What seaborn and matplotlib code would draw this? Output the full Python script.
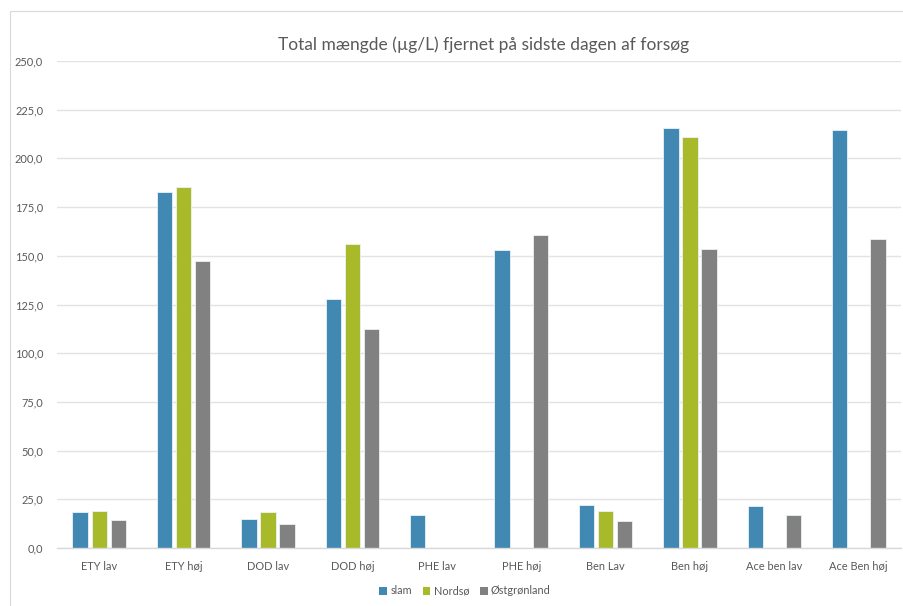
import numpy as np
import pandas as pd
import matplotlib
matplotlib.use("Agg")
import matplotlib.pyplot as plt
from matplotlib.patches import Rectangle
import seaborn as sns

# Categories and removed amounts (µg/L) per sediment type
kategorier = ["ETY lav", "ETY høj", "DOD lav", "DOD høj", "PHE lav",
              "PHE høj", "Ben Lav", "Ben høj", "Ace ben lav", "Ace Ben høj"]
serier = ["slam", "Nordsø", "Østgrønland"]
slam = [18.5, 182.5, 14.7, 127.6, 17.1, 153.2, 22.2, 215.4, 21.6, 214.7]
nordsoe = [19.0, 185.1, 18.5, 156.2, np.nan, np.nan, 19.2, 211.1, np.nan, np.nan]
oestgroenland = [14.4, 147.4, 12.3, 112.5, np.nan, 160.9, 13.9, 153.3, 17.1, 158.4]
y_ticks = [0, 25, 50, 75, 100, 125, 150, 175, 200, 225, 250]

farver = ["#4189B2", "#A8B92A", "#818181"]
tekstfarve = "#595959"

df = pd.DataFrame({
    "kategori": kategorier * 3,
    "serie": [s for s in serier for _ in kategorier],
    "værdi": slam + nordsoe + oestgroenland,
})
df = df.dropna()

sns.set_theme(style="white")
plt.rcParams["font.family"] = ["Lato", "DejaVu Sans"]

fig = plt.figure(figsize=(9.04, 6.06), dpi=100)
ax = fig.add_axes([57 / 904, 1 - 548 / 606, 844 / 904, 487 / 606])

sns.barplot(data=df, x="kategori", y="værdi", hue="serie",
            order=kategorier, hue_order=serier, palette=farver,
            saturation=1, width=0.68, gap=0.2, errorbar=None, ax=ax,
            edgecolor="#EAF2F7", linewidth=0.6, legend=False)

ax.set_ylim(0, 250)
ax.set_xlim(-0.5, len(kategorier) - 0.5)
ax.set_yticks(y_ticks)
ax.set_yticklabels([f"{v:.1f}".replace(".", ",") for v in y_ticks])
ax.yaxis.grid(True, color="#E3E3E3", linewidth=1.0)
ax.set_axisbelow(True)
for side in ["top", "right", "left"]:
    ax.spines[side].set_visible(False)
ax.spines["bottom"].set_color("#D9D9D9")
ax.spines["bottom"].set_linewidth(1.0)
ax.tick_params(axis="both", length=0, colors=tekstfarve, labelsize=7.9)
ax.tick_params(axis="y", pad=10)
ax.tick_params(axis="x", pad=9)
ax.set_xlabel("")
ax.set_ylabel("")

fig.text(484 / 904, 1 - 45 / 606,
         "Total mængde (µg/L) fjernet på sidste dagen af forsøg",
         ha="center", va="center", fontsize=12.5, color=tekstfarve)

handles = [Rectangle((0, 0), 1, 1, facecolor=c, edgecolor="none") for c in farver]
fig.legend(handles, serier, loc="center", bbox_to_anchor=(465 / 904, 1 - 591 / 606),
           ncol=3, frameon=False, fontsize=7.8, labelcolor=tekstfarve,
           handlelength=0.7, handleheight=0.7, handletextpad=0.3,
           columnspacing=1.0)

# chart frame
fig.patches.append(Rectangle((10 / 904, -0.05), 1.0, 1 - 11 / 606 + 0.05,
                             transform=fig.transFigure, fill=False,
                             edgecolor="#D9D9D9", linewidth=0.8))

fig.savefig("out.png", dpi=100, facecolor="white")
